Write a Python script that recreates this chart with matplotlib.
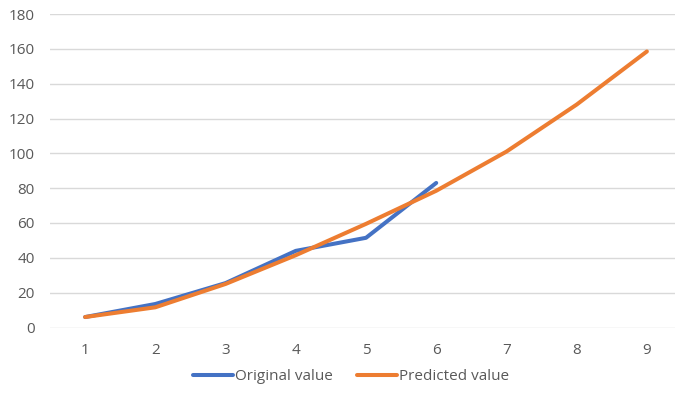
import matplotlib.pyplot as plt

categories = [1, 2, 3, 4, 5, 6, 7, 8, 9]
original_value = [6, 13.5, 25.5, 44, 51.5, 83]
predicted_value = [6, 11.6, 25, 41.5, 59.5, 78.5, 101, 128, 158.5]

BLUE = '#4472C4'
ORANGE = '#ED7D31'
GREY = '#595959'

plt.rcParams['font.family'] = ['Open Sans', 'DejaVu Sans']

fig = plt.figure(figsize=(6.75, 4.01), dpi=100)
ax = fig.add_axes([50 / 675, 1 - 327.5 / 401, 632 / 675, (327.5 - 14) / 401])

ax.plot(categories[:len(original_value)], original_value, color=BLUE,
        linewidth=2.9, solid_capstyle='round', solid_joinstyle='round', label='Original value')
ax.plot(categories, predicted_value, color=ORANGE,
        linewidth=2.9, solid_capstyle='round', solid_joinstyle='round', label='Predicted value')

ax.set_xlim(0.5, 9.5)
ax.set_ylim(0, 180)
ax.set_yticks(range(0, 181, 20))
ax.set_xticks(categories)
ax.grid(axis='y', color='#D9D9D9', linewidth=1)
ax.set_axisbelow(True)
for s in ax.spines.values():
    s.set_visible(False)
ax.tick_params(axis='both', length=0, colors=GREY, labelsize=11)
ax.tick_params(axis='y', pad=11)
ax.tick_params(axis='x', pad=11)

fig.legend(loc='center', bbox_to_anchor=(351 / 675, 1 - 377 / 401), ncol=2, frameon=False,
           fontsize=11, handlelength=2.6, handletextpad=0.12, columnspacing=1.6,
           labelcolor=GREY)

fig.savefig('out.png', dpi=100)
